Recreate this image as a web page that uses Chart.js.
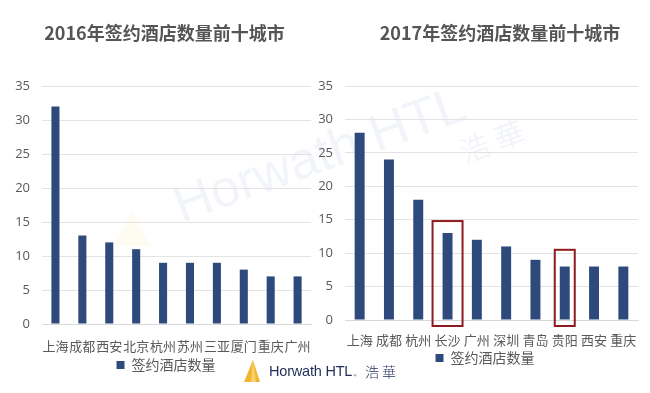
<!DOCTYPE html>
<html>
<head>
<meta charset="utf-8">
<script src="https://cdn.jsdelivr.net/npm/chart.js@4/dist/chart.umd.min.js"></script>
<style>
  html,body{margin:0;padding:0;background:#fff;}
  #wrap{position:relative;width:650px;height:393px;overflow:hidden;background:#fff;}
  canvas{position:absolute;top:0;}
  #c1{left:0;}
  #c2{left:305px;}
  .title{position:absolute;top:20px;width:300px;text-align:center;font-family:"Noto Sans CJK SC",sans-serif;font-weight:bold;font-size:18px;line-height:24px;color:#555555;white-space:nowrap;}
  .wm{position:absolute;font-family:"Liberation Sans",Arial,sans-serif;color:rgba(150,170,205,0.13);white-space:nowrap;}
  #logo{position:absolute;left:243px;top:359px;height:24px;display:flex;align-items:center;}
  #logo .t{font-family:"Liberation Sans",Arial,sans-serif;font-size:14.5px;color:#1f2f57;letter-spacing:-0.2px;margin-left:8px;}
  #logo .s{font-size:5px;color:#1f2f57;margin-left:1px;margin-top:9px;}
  #logo .c{font-family:"Noto Sans CJK SC",sans-serif;font-weight:300;font-size:14px;color:#1f2f57;margin-left:8px;letter-spacing:3px;}
</style>
</head>
<body>
<div id="wrap">
  <div class="wm" style="left:165px;top:178px;font-size:52px;transform:rotate(-20deg);transform-origin:left top;">Horwath HTL</div>
  <div class="wm" style="left:458px;top:118px;font-size:30px;transform:rotate(-20deg);font-family:'Noto Sans CJK SC';">浩 華</div>
  <svg class="wm" style="left:112px;top:208px;" width="40" height="40"><polygon points="20,2 38,38 2,38" fill="rgba(250,230,120,0.10)"/></svg>
  <canvas id="c1" width="325" height="393"></canvas>
  <canvas id="c2" width="345" height="393"></canvas>
  <div class="title" id="t1" style="left:14.5px;"></div>
  <div class="title" id="t2" style="left:350px;"></div>
  <div id="logo">
    <svg width="18" height="24"><polygon points="10,1 17,23 1,23" fill="#f2b531"/><polygon points="10,1 13,23 8,23" fill="#f7d36a"/></svg>
    <span class="t">Horwath HTL</span><span class="s">®</span><span class="c">浩華</span>
  </div>
</div>
<script>
const yTicks = [0, 5, 10, 15, 20, 25, 30, 35];
const cities2016 = ['上海','成都','西安','北京','杭州','苏州','三亚','厦门','重庆','广州'];
const values2016 = [32, 13, 12, 11, 9, 9, 9, 8, 7, 7];
const cities2017 = ['上海','成都','杭州','长沙','广州','深圳','青岛','贵阳','西安','重庆'];
const values2017 = [28, 24, 18, 13, 12, 11, 9, 8, 8, 8];
const highlightCities = ['长沙','贵阳'];
const highlightTops = [14.8, 10.5];
const seriesName = '签约酒店数量';
const title2016 = '2016年签约酒店数量前十城市';
const title2017 = '2017年签约酒店数量前十城市';

document.getElementById('t1').textContent = title2016;
document.getElementById('t2').textContent = title2017;

const barColor = '#2e4a7d';
const txt = '#595959';
const cjk = '"Noto Sans CJK SC","Noto Sans",sans-serif';

const boxPlugin = {
  id: 'boxes',
  afterDatasetsDraw(chart, args, opts) {
    if (!opts.cities) return;
    const ctx = chart.ctx, x = chart.scales.x, y = chart.scales.y;
    ctx.save();
    ctx.strokeStyle = '#8e1b1f';
    ctx.lineWidth = 2;
    opts.cities.forEach((c, i) => {
      const idx = chart.data.labels.indexOf(c);
      const cx = x.getPixelForValue(idx);
      const hw = opts.halfWidths[i];
      const top = y.getPixelForValue(opts.tops[i]);
      const bottom = y.getPixelForValue(0) + 6;
      ctx.strokeRect(cx - hw, top, hw * 2, bottom - top);
    });
    ctx.restore();
  }
};

// widen the y-axis label clip region to the canvas edge (labels stay anchored at the axis)
const yClipPlugin = {
  id: 'yclip',
  afterLayout(chart) { chart.scales.y.left = 0; }
};

function makeChart(id, labels, data, cfg) {
  return new Chart(document.getElementById(id), {
    type: 'bar',
    data: {
      labels: labels,
      datasets: [{
        label: seriesName,
        data: data,
        backgroundColor: barColor,
        borderWidth: 0,
        barPercentage: cfg.barPct,
        categoryPercentage: 1.0
      }]
    },
    options: {
      responsive: false,
      animation: false,
      devicePixelRatio: 1,
      layout: { padding: { left: cfg.padLeft, right: cfg.padRight, top: 86, bottom: cfg.padBottom } },
      plugins: {
        title: { display: false },
        legend: {
          display: true, position: 'bottom',
          labels: {
            color: txt, boxWidth: 8, boxHeight: 8, padding: cfg.legendPad,
            font: { family: cjk, size: 14 }
          }
        },
        tooltip: { enabled: false },
        boxes: cfg.boxes || {}
      },
      scales: {
        x: {
          grid: { display: false, drawTicks: false },
          border: { display: true, color: '#d9d9d9' },
          ticks: { color: txt, padding: cfg.xPad, font: { family: cjk, size: 13 }, autoSkip: false, maxRotation: 0 },
          afterFit(s) { s.height = cfg.xHeight; }
        },
        y: {
          min: 0, max: 35,
          afterBuildTicks(s) { s.ticks = yTicks.map(v => ({ value: v })); },
          grid: { color: '#e3e3e3', drawTicks: false },
          border: { display: false },
          ticks: { color: txt, padding: cfg.yPad, font: { family: '"Open Sans","DejaVu Sans",sans-serif', size: 13 } },
          afterFit(s) { s.width = cfg.yWidth; }
        }
      }
    },
    plugins: [boxPlugin, yClipPlugin]
  });
}

makeChart('c1', cities2016, values2016, {
  barPct: 0.3, padLeft: 15, padRight: 8, padBottom: 11, legendPad: 4,
  xPad: 14, xHeight: 30, yPad: 12, yWidth: 27
});

makeChart('c2', cities2017, values2017, {
  barPct: 0.34, padLeft: 27, padRight: 12, padBottom: 18, legendPad: 3,
  xPad: 12, xHeight: 28, yPad: 12, yWidth: 13,
  boxes: { cities: highlightCities, tops: highlightTops, halfWidths: [15, 10] }
});
</script>
</body>
</html>
